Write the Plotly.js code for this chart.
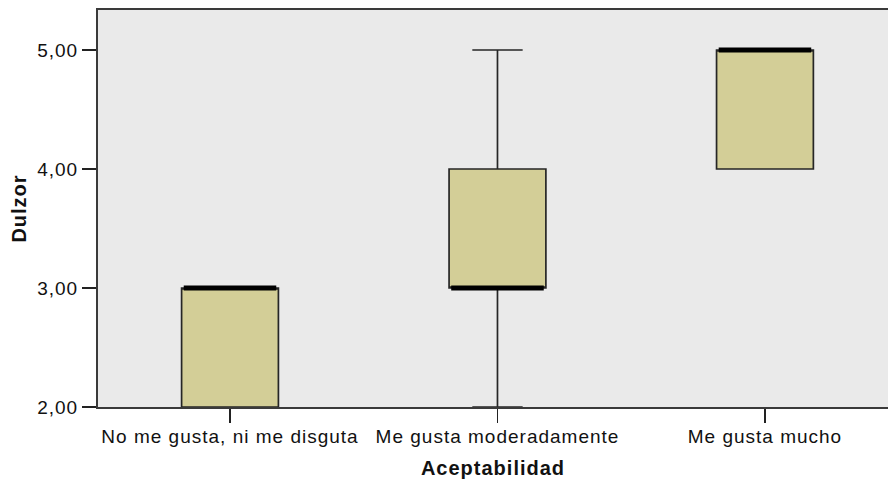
<!DOCTYPE html>
<html>
<head>
<meta charset="utf-8">
<script src="https://cdn.plot.ly/plotly-3.0.1.min.js"></script>
<style>
html,body{margin:0;padding:0;background:#fff;}
#chart{width:888px;height:484px;}
#chart .xtick text, #chart .ytick text, #chart .g-xtitle text, #chart .g-ytitle text{letter-spacing:1px;}
</style>
</head>
<body>
<div id="chart"></div>
<script>
// Data (Dulzor by Aceptabilidad)
var categories = ["No me gusta, ni me disguta", "Me gusta moderadamente", "Me gusta mucho"];
var lowerFence = [2, 2, 4];
var q1Values = [2, 3, 4];
var medianValues = [3, 3, 5];
var q3Values = [3, 4, 5];
var upperFence = [3, 5, 5];
var yTickValues = [2, 3, 4, 5];

var boxWidth = 0.362;
var fontFam = "Liberation Sans, Arial, sans-serif";

var boxes = {
  type: "box",
  x: categories,
  lowerfence: lowerFence,
  q1: q1Values,
  median: medianValues,
  q3: q3Values,
  upperfence: upperFence,
  width: boxWidth,
  whiskerwidth: 0.52,
  fillcolor: "#d3ce97",
  line: {color: "#262626", width: 1.7},
  boxpoints: false,
  hoverinfo: "skip",
  showlegend: false
};

// Thick median bands drawn as zero-height boxes on top
var medians = {
  type: "box",
  x: categories,
  lowerfence: medianValues,
  q1: medianValues,
  median: medianValues,
  q3: medianValues,
  upperfence: medianValues,
  width: boxWidth - 0.016,
  whiskerwidth: 0,
  fillcolor: "rgba(0,0,0,0)",
  line: {color: "#000000", width: 5},
  boxpoints: false,
  hoverinfo: "skip",
  showlegend: false
};

var layout = {
  width: 888,
  height: 484,
  margin: {l: 98, r: 0, t: 10, b: 77},
  paper_bgcolor: "#ffffff",
  plot_bgcolor: "#eaeaea",
  separators: ",.",
  boxmode: "overlay",
  showlegend: false,
  font: {family: fontFam, size: 19, color: "#111"},
  xaxis: {
    type: "category",
    range: [-0.4935, 2.46],
    showgrid: false,
    zeroline: false,
    showline: true,
    mirror: true,
    linecolor: "#3a3a3a",
    linewidth: 2,
    ticks: "outside",
    ticklen: 14,
    tickwidth: 1.6,
    tickcolor: "#222",
    ticklabelstandoff: -3,
    tickfont: {family: fontFam, size: 19, color: "#111"},
    title: {text: "Aceptabilidad", font: {family: fontFam, size: 20, color: "#111", weight: "bold"}, standoff: 15},
    fixedrange: true
  },
  yaxis: {
    range: [2, 5.336],
    tickvals: yTickValues,
    tickformat: ".2f",
    showgrid: false,
    zeroline: false,
    showline: true,
    mirror: false,
    linecolor: "#3a3a3a",
    linewidth: 2,
    ticks: "outside",
    ticklen: 14,
    tickwidth: 1.6,
    tickcolor: "#222",
    tickfont: {family: fontFam, size: 19, color: "#111"},
    title: {text: "Dulzor", font: {family: fontFam, size: 20, color: "#111", weight: "bold"}, standoff: 9},
    fixedrange: true
  }
};

Plotly.newPlot("chart", [boxes, medians], layout, {displayModeBar: false, staticPlot: true});
</script>
</body>
</html>
